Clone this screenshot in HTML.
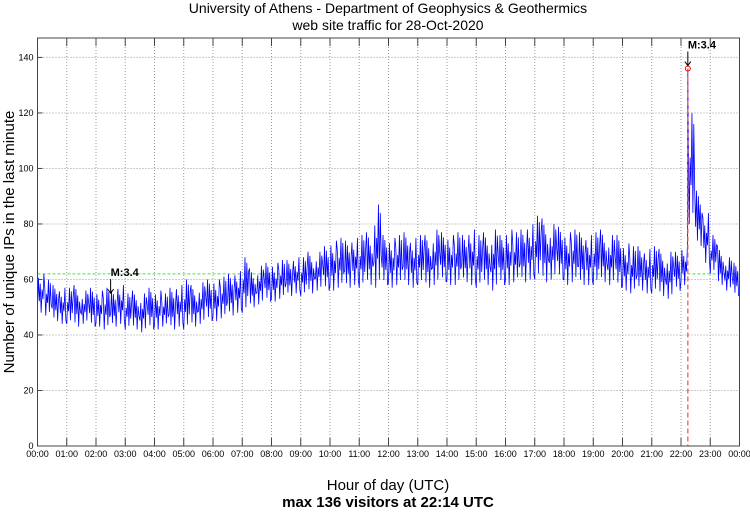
<!DOCTYPE html>
<html><head><meta charset="utf-8"><style>
body{margin:0;background:#fff;width:750px;height:511px;overflow:hidden;font-family:"Liberation Sans",sans-serif}
svg text{font-family:"Liberation Sans",sans-serif}
</style></head><body>
<svg id="chart" width="750" height="511" viewBox="0 0 750 511" xmlns="http://www.w3.org/2000/svg">
<text x="388" y="13" font-size="14" text-anchor="middle">University of Athens - Department of Geophysics &amp; Geothermics</text>
<text x="388" y="30" font-size="14" text-anchor="middle">web site traffic for 28-Oct-2020</text>
<text x="388" y="490" font-size="15" text-anchor="middle">Hour of day (UTC)</text>
<text x="388" y="507" font-size="15" font-weight="bold" text-anchor="middle">max 136 visitors at 22:14 UTC</text>
<text transform="translate(14,242) rotate(-90)" font-size="15" text-anchor="middle">Number of unique IPs in the last minute</text>
<g id="grid"></g>
<g id="plot"></g>
<g id="axes"></g>
</svg>
<script>
const yTicks=[0,20,40,60,80,100,120,140];
const xTickLabels=["00:00","01:00","02:00","03:00","04:00","05:00","06:00","07:00","08:00","09:00","10:00","11:00","12:00","13:00","14:00","15:00","16:00","17:00","18:00","19:00","20:00","21:00","22:00","23:00","00:00"];
const binLow=[48,47,45,44,44,43,44,43,43,42,43,44,42,42,41,42,42,43,42,43,42,43,44,45,45,46,47,48,48,50,51,52,52,53,54,55,54,55,56,56,56,57,57,58,57,58,57,58,57,58,58,57,58,57,58,59,58,58,59,58,57,58,56,58,58,59,59,60,60,59,60,60,58,59,58,58,58,59,58,57,56,55,56,55,55,54,53,56,58,80,72,66,62,58,56,54];
const binHigh=[62,60,58,57,57,58,56,57,56,57,56,58,55,56,55,57,56,55,57,58,60,58,59,60,60,61,62,63,68,64,65,66,66,67,67,68,68,70,70,72,74,75,74,75,76,77,87,76,75,76,77,75,76,76,78,77,76,77,76,78,76,77,78,76,78,77,78,80,83,82,80,79,77,78,77,76,77,78,76,76,73,72,72,71,72,71,70,70,72,120,92,84,76,72,68,66];
const avgLevel=[62];
const maxTime=[22+14/60];
const maxValue=[136];
const quakeTimes=[2.5,22+14/60];
const quakeValues=[54,136];
const quakeLabel="M:3.4";
// visual jitter pattern (fraction of each bin's low-high range), not data
const jitter=[0.1,0.9,0.3,0.75,0.0,0.6,0.35,1.0];

const L=37.5,R=739.5,T=38,B=446,yMax=147;
const xs=h=>L+(R-L)*h/24;
const ys=v=>B-(B-T)*v/yMax;
const NS="http://www.w3.org/2000/svg";
function mk(tag,parent){const e=document.createElementNS(NS,tag);document.getElementById(parent).appendChild(e);return e;}

yTicks.forEach(v=>{
 const g=mk('line','grid');
 
 
 g.setAttribute('x1',L);g.setAttribute('x2',R);g.setAttribute('y1',ys(v));g.setAttribute('y2',ys(v));
 g.setAttribute('stroke','#999');g.setAttribute('stroke-dasharray','1,2');g.setAttribute('stroke-width','1');
 const t=mk('text','axes');
 
 
 t.setAttribute('x',L-4);t.setAttribute('y',ys(v)+3);t.setAttribute('font-size','9');t.setAttribute('text-anchor','end');t.textContent=v;
 const tk=mk('line','axes');
 
 
 tk.setAttribute('x1',L);tk.setAttribute('x2',L+5);tk.setAttribute('y1',ys(v));tk.setAttribute('y2',ys(v));tk.setAttribute('stroke','#444');
});
xTickLabels.forEach((lab,i)=>{
 const x=xs(i);
 const g=mk('line','grid');
 
 
 g.setAttribute('x1',x);g.setAttribute('x2',x);g.setAttribute('y1',T);g.setAttribute('y2',B);
 g.setAttribute('stroke','#999');g.setAttribute('stroke-dasharray','1,2');
 const tk=mk('line','axes');
 
 
 tk.setAttribute('x1',x);tk.setAttribute('x2',x);tk.setAttribute('y1',B);tk.setAttribute('y2',B-8);tk.setAttribute('stroke','#444');
 const tk2=mk('line','axes');
 
 
 tk2.setAttribute('x1',x);tk2.setAttribute('x2',x);tk2.setAttribute('y1',T);tk2.setAttribute('y2',T+8);tk2.setAttribute('stroke','#444');
 const t=mk('text','axes');
 
 
 t.setAttribute('x',x);t.setAttribute('y',B+11);t.setAttribute('font-size','9');t.setAttribute('text-anchor','middle');t.textContent=lab;
});
const frame=mk('rect','axes');


frame.setAttribute('x',L);frame.setAttribute('y',T);frame.setAttribute('width',R-L);frame.setAttribute('height',B-T);
frame.setAttribute('fill','none');frame.setAttribute('stroke','#444');

const av=mk('line','plot');


av.setAttribute('x1',L);av.setAttribute('x2',R);av.setAttribute('y1',ys(avgLevel[0]));av.setAttribute('y2',ys(avgLevel[0]));
av.setAttribute('stroke','#33ee33');av.setAttribute('stroke-dasharray','3,2');

let pts=[];
const n=binLow.length, hw=24/n, m=jitter.length;
let maxAdded=false;
for(let i=0;i<n;i++){
 for(let k=0;k<m;k++){
  const h=i*hw+hw*k/m;
  if(!maxAdded && h>=maxTime[0]){pts.push(xs(maxTime[0])+','+ys(maxValue[0]));maxAdded=true;}
  const v=binLow[i]+(binHigh[i]-binLow[i])*jitter[(k+i*3)%m];
  pts.push(xs(h).toFixed(2)+','+ys(v).toFixed(2));
 }
}
const pl=mk('polyline','plot');


pl.setAttribute('points',pts.join(' '));pl.setAttribute('fill','none');pl.setAttribute('stroke','#0000ff');pl.setAttribute('stroke-width','0.8');

const mx=xs(maxTime[0]);
const rl=mk('line','plot');


rl.setAttribute('x1',mx);rl.setAttribute('x2',mx);rl.setAttribute('y1',ys(maxValue[0]));rl.setAttribute('y2',B);
rl.setAttribute('stroke','#ff5555');rl.setAttribute('stroke-dasharray','5,3');rl.setAttribute('stroke-width','1.3');
const c=mk('circle','plot');


c.setAttribute('cx',mx);c.setAttribute('cy',ys(maxValue[0]));c.setAttribute('r','2.5');c.setAttribute('fill','none');c.setAttribute('stroke','#ee0000');

quakeTimes.forEach((h,i)=>{
 const x=xs(h);
 const yEnd=ys(quakeValues[i])-3, yStart=yEnd-14;
 const a=mk('line','plot');
 
 
 a.setAttribute('x1',x);a.setAttribute('x2',x);a.setAttribute('y1',yStart);a.setAttribute('y2',yEnd);a.setAttribute('stroke','#000');
 const hd=mk('polyline','plot');
 
 
 hd.setAttribute('points',(x-3)+','+(yEnd-4)+' '+x+','+yEnd+' '+(x+3)+','+(yEnd-4));hd.setAttribute('fill','none');hd.setAttribute('stroke','#000');
 const t=mk('text','plot');
 
 
 t.setAttribute('x',x);t.setAttribute('y',yStart-3);t.setAttribute('font-size','11');t.setAttribute('font-weight','bold');t.textContent=quakeLabel;
});
</script>
</body></html>
